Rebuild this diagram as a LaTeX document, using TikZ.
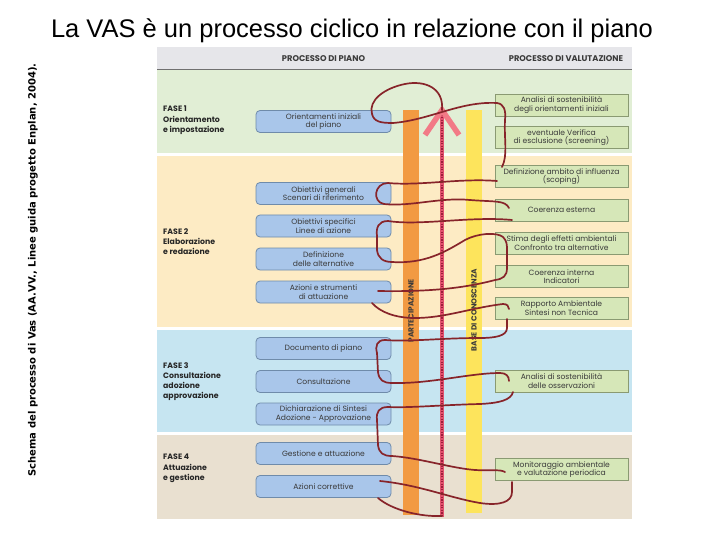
\documentclass[tikz,border=0pt]{standalone}
\usepackage{fontspec}
\setmainfont{Poppins}
\newfontfamily\titlefont{Liberation Sans}
\newfontfamily\sidefont{DejaVu Sans}
\usetikzlibrary{scopes}

\definecolor{hdrgray}{HTML}{E6E6EA}
\definecolor{hdrline}{HTML}{707070}
\definecolor{fase1col}{HTML}{E1EED5}
\definecolor{fase2col}{HTML}{FDEBC4}
\definecolor{fase3col}{HTML}{C6E5F1}
\definecolor{fase4col}{HTML}{E9E0D0}
\definecolor{pianofill}{HTML}{A9C6EA}
\definecolor{pianoline}{HTML}{6F8BAA}
\definecolor{valfill}{HTML}{D6E7B8}
\definecolor{valline}{HTML}{8A9A72}
\definecolor{orangebar}{HTML}{F29A42}
\definecolor{yellowbar}{HTML}{FDE45C}
\definecolor{pinkline}{HTML}{E2526D}
\definecolor{pinkarrow}{HTML}{F27A86}
\definecolor{dotred}{HTML}{9E1E3C}
\definecolor{spiralred}{HTML}{87242A}
\definecolor{textgray}{HTML}{3A3A3A}

\begin{document}
\begin{tikzpicture}[x=1pt,y=-1pt,
    piano/.style={rectangle,rounded corners=4pt,draw=pianoline,fill=pianofill,line width=0.8pt,
        minimum width=135pt,minimum height=22pt,inner sep=0.5pt,align=center,text=textgray,
        font=\fontsize{7.6}{8.4}\selectfont},
    val/.style={rectangle,draw=valline,fill=valfill,line width=0.8pt,
        minimum width=133pt,minimum height=22pt,inner sep=0.5pt,align=center,text=textgray,
        font=\fontsize{7.6}{8.4}\selectfont},
    fase/.style={anchor=north west,align=left,inner sep=0pt,text=black!85,
        font=\bfseries\fontsize{7.8}{10.3}\selectfont},
    head/.style={inner sep=0pt,text=textgray,font=\bfseries\fontsize{8.3}{10}\selectfont},
    barlabel/.style={rotate=90,inner sep=0pt,text=textgray,font=\bfseries\fontsize{7.4}{8}\selectfont},
    spiral/.style={draw=spiralred,line width=1.7pt,line cap=round},
]
\fill[white] (0,0) rectangle (720,540);
\useasboundingbox (0,0) rectangle (720,540);

% title and source
\node[anchor=base,font=\titlefont\fontsize{25.5}{30}\selectfont] (titolo) at (352,38)
    {La VAS è un processo ciclico in relazione con il piano};
\node[rotate=90,font=\sidefont\bfseries\fontsize{10}{12}\selectfont] (fonte) at (33,270)
    {Schema del processo di Vas (AA.VV., Linee guida progetto Enplan, 2004).};

% bands
\fill[hdrgray] (157,47) rectangle (632,69);
\draw[hdrline,line width=1.2pt] (157,69.5) -- (632,69.5);
\fill[fase1col] (157,70.5) rectangle (632,153.5);
\fill[fase2col] (157,156) rectangle (632,327);
\fill[fase3col] (157,329.5) rectangle (632,432);
\fill[fase4col] (157,434.5) rectangle (632,519);

\node[head] (hpiano) at (323.5,58.5) {PROCESSO DI PIANO};
\node[head] (hval) at (566,58.5) {PROCESSO DI VALUTAZIONE};

\node[fase] (f1) at (163,106) {FASE 1\\Orientamento\\e impostazione};
\node[fase] (f2) at (163,228) {FASE 2\\Elaborazione\\e redazione};
\node[fase] (f3) at (163,362) {FASE 3\\Consultazione\\adozione\\approvazione};
\node[fase] (f4) at (163,454) {FASE 4\\Attuazione\\e gestione};

% bars
\fill[orangebar] (403,110) rectangle (419,515);
\fill[yellowbar] (466,110) rectangle (482,513);
\node[barlabel] (partecipazione) at (411,311) {PARTECIPAZIONE};
\node[barlabel] (conoscenza) at (474,310) {BASE DI CONOSCENZA};
\draw[pinkline,line width=4pt] (442,110) -- (442,517);
\draw[dotred,line width=1.3pt,dash pattern=on 1.2pt off 1.4pt] (442,112) -- (442,516);
\draw[pinkarrow,line width=5.5pt] (425,135) -- (442,110) -- (459,135);

% processo di piano
\node[piano] (p1) at (323.5,121.5) {Orientamenti iniziali\\del piano};
\node[piano] (p2) at (323.5,193.5) {Obiettivi generali\\Scenari di riferimento};
\node[piano] (p3) at (323.5,226) {Obiettivi specifici\\Linee di azione};
\node[piano] (p4) at (323.5,259) {Definizione\\delle alternative};
\node[piano] (p5) at (323.5,292) {Azioni e strumenti\\di attuazione};
\node[piano] (p6) at (323.5,348.5) {Documento di piano};
\node[piano] (p7) at (323.5,381.5) {Consultazione};
\node[piano] (p8) at (323.5,414) {Dichiarazione di Sintesi\\Adozione - Approvazione};
\node[piano] (p9) at (323.5,453.5) {Gestione e attuazione};
\node[piano] (p10) at (323.5,486.5) {Azioni correttive};

% processo di valutazione
\node[val] (v1) at (561.5,105) {Analisi di sostenibilità\\degli orientamenti iniziali};
\node[val] (v2) at (561.5,137.5) {eventuale Verifica\\di esclusione (screening)};
\node[val] (v3) at (561.5,176.5) {Definizione ambito di influenza\\(scoping)};
\node[val] (v4) at (561.5,210) {Coerenza esterna};
\node[val] (v5) at (561.5,243) {Stima degli effetti ambientali\\Confronto tra alternative};
\node[val] (v6) at (561.5,276.5) {Coerenza interna\\Indicatori};
\node[val] (v7) at (561.5,308) {Rapporto Ambientale\\Sintesi non Tecnica};
\node[val] (v8) at (561.5,381) {Analisi di sostenibilità\\delle osservazioni};
\node[val] (v9) at (561.5,469.5) {Monitoraggio ambientale\\e valutazione periodica};

% ciclo
{[spiral]
    \draw (442,110) .. controls (444,88) and (425,80) .. (405,84) .. controls (385,88) and (368,100) .. (372,114)
        .. controls (374,122) and (381,123) .. (393,123) .. controls (430,120) and (460,101) .. (497,103)
        .. controls (504,104) and (506,110) .. (505,120) .. controls (504,140) and (508,155) .. (502,167);
    \draw (497,181) .. controls (460,178) and (420,186) .. (388,183) .. controls (374,183) and (372,202) .. (384,204)
        .. controls (410,207) and (440,197) .. (470,200) .. controls (495,202) and (505,200) .. (509,208);
    \draw (512,220) .. controls (470,216) and (420,226) .. (388,221) .. controls (378,221) and (376,228) .. (377,236)
        -- (377,250) .. controls (378,258) and (383,262) .. (392,262) .. controls (425,264) and (445,252) .. (465,240)
        .. controls (478,233) and (497,232) .. (503,237) .. controls (507,241) and (507,245) .. (507,250)
        -- (507,268) .. controls (507,276) and (503,279) .. (495,280) .. controls (465,288) and (430,292) .. (378,291);
    \draw (372,303) .. controls (380,312) and (395,318) .. (415,318) .. controls (445,318) and (470,308) .. (503,304)
        .. controls (507,304) and (509,306) .. (509,309);
    \draw (507,319) -- (507,328) .. controls (507,336) and (495,338) .. (480,338) .. controls (440,338) and (410,342) .. (385,340)
        .. controls (377,340) and (375,346) .. (377,353) -- (378,372) .. controls (379,380) and (383,383) .. (392,383)
        .. controls (430,384) and (470,373) .. (500,373) .. controls (506,373) and (509,376) .. (509,381);
    \draw (513,392) .. controls (511,400) and (500,403) .. (480,404) .. controls (440,405) and (410,408) .. (388,407)
        .. controls (379,407) and (376,412) .. (377,420) -- (378,445) .. controls (379,453) and (383,456) .. (392,456)
        .. controls (420,458) and (450,468) .. (475,470) .. controls (490,471) and (500,469) .. (505,472);
    \draw (512,482) -- (512,492) .. controls (512,502) and (500,506) .. (480,503) .. controls (450,498) and (420,485) .. (380,481);
    \draw (378,498) .. controls (392,510) and (420,517) .. (442,516);
}

\end{tikzpicture}
\end{document}
